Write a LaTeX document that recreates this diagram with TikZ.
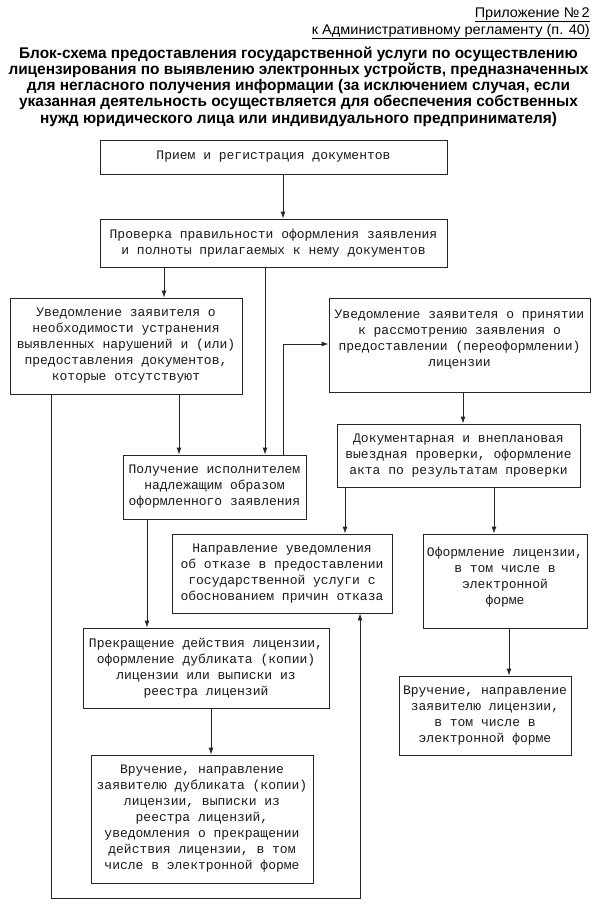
\documentclass[tikz,border=0pt]{standalone}
\usepackage{fontspec}
\usepackage{graphicx}
\setmainfont{Liberation Sans}
\newfontfamily\monof{Liberation Mono}
\usetikzlibrary{arrows.meta}
\newlength\tlen
\begin{document}
\settowidth\tlen{\bfseries\fontsize{15.5}{16}\selectfont лицензирования по выявлению электронных устройств, предназначенных}%
\pgfmathsetmacro\tsx{580/\the\tlen}%
\begin{tikzpicture}[x=1pt,y=-1pt,
  box/.style={draw=black!85, line width=0.9pt, inner sep=1pt, align=center,
    font=\monof\fontsize{13}{16}\selectfont, text=black!90},
  arr/.style={draw=black!85, line width=0.9pt, -{Latex[length=7pt,width=5pt]}},
  ttl/.style={anchor=base, inner sep=0pt, font=\bfseries\fontsize{15.5}{16}\selectfont},
  hdr/.style={anchor=base east, inner sep=0pt, font=\fontsize{14}{16}\selectfont}]
\fill[white] (0,0) rectangle (600,906);
\useasboundingbox (0,0) rectangle (600,906);

% header
\node[hdr] (h1) at (590,17)
  {\resizebox{115pt}{\height}{\underline{Приложение №\,2}}};
\node[hdr] (h2) at (590,34)
  {\resizebox{278pt}{\height}{\underline{к Административному регламенту (п. 40)}}};
% title
\node[ttl] (t1) at (298.5,58) {\scalebox{\tsx}[1]{Блок-схема предоставления государственной услуги по осуществлению}};
\node[ttl] (t2) at (298.5,74.25) {\scalebox{\tsx}[1]{лицензирования по выявлению электронных устройств, предназначенных}};
\node[ttl] (t3) at (298.5,90.5) {\scalebox{\tsx}[1]{для негласного получения информации (за исключением случая, если}};
\node[ttl] (t4) at (298.5,106.75) {\scalebox{\tsx}[1]{указанная деятельность осуществляется для обеспечения собственных}};
\node[ttl] (t5) at (298.5,123) {\scalebox{\tsx}[1]{нужд юридического лица или индивидуального предпринимателя)}};

% boxes
\node[box, minimum width=347pt, minimum height=34pt] (b1) at (273.5,157)
  {Прием и регистрация документов};
\node[box, minimum width=347pt, minimum height=48pt] (b2) at (273.5,243)
  {Проверка правильности оформления заявления\\и полноты прилагаемых к нему документов};
\node[box, minimum width=232pt, minimum height=96pt] (b3) at (126,346)
  {Уведомление заявителя о\\необходимости устранения\\выявленных нарушений и (или)\\предоставления документов,\\которые отсутствуют};
\node[box, minimum width=261pt, minimum height=94pt] (b4) at (459.5,345)
  {Уведомление заявителя о принятии\\к рассмотрению заявления о\\предоставлении (переоформлении)\\лицензии\\[-8pt]\strut};
\node[box, minimum width=183pt, minimum height=64pt] (b5) at (214.5,487)
  {Получение исполнителем\\надлежащим образом\\оформленного заявления};
\node[box, minimum width=243pt, minimum height=63pt] (b6) at (458.5,455.5)
  {Документарная и внеплановая\\выездная проверки, оформление\\акта по результатам проверки};
\node[box, minimum width=220pt, minimum height=79pt] (b7) at (282,573.5)
  {Направление уведомления\\об отказе в предоставлении\\государственной услуги с\\обоснованием причин отказа};
\node[box, minimum width=164pt, minimum height=94pt] (b8) at (505,581)
  {Оформление лицензии,\\в том числе в\\электронной\\форме\\[-10pt]\strut};
\node[box, minimum width=246pt, minimum height=80pt] (b9) at (206,668)
  {Прекращение действия лицензии,\\оформление дубликата (копии)\\лицензии или выписки из\\реестра лицензий};
\node[box, minimum width=172pt, minimum height=79pt] (b10) at (485,715.5)
  {Вручение, направление\\заявителю лицензии,\\в том числе в\\электронной форме};
\node[box, minimum width=222pt, minimum height=128pt] (b11) at (202,819)
  {Вручение, направление\\заявителю дубликата (копии)\\лицензии, выписки из\\реестра лицензий,\\уведомления о прекращении\\действия лицензии, в том\\числе в электронной форме};

% helper coordinates
\coordinate (X51) at (51,0);
\coordinate (X147) at (147,0);
\coordinate (X164) at (164,0);
\coordinate (X179) at (179,0);
\coordinate (X211) at (211,0);
\coordinate (X265) at (265,0);
\coordinate (X283) at (283,0);
\coordinate (X345) at (345,0);
\coordinate (X360) at (360,0);
\coordinate (X463) at (463,0);
\coordinate (X494) at (494,0);
\coordinate (X509) at (509,0);
\coordinate (Y344) at (0,344);
\coordinate (Ybot) at (0,898);

% connectors
\draw[arr] (b1.south -| X283) -- (b2.north -| X283);
\draw[arr] (b2.south -| X164) -- (b3.north -| X164);
\draw[arr] (b2.south -| X265) -- (b5.north -| X265);
\draw[arr] (b3.south -| X179) -- (b5.north -| X179);
\draw[arr] (b5.north -| X283) -- (X283 |- Y344) -- (b4.west |- Y344);
\draw[arr] (b4.south -| X463) -- (b6.north -| X463);
\draw[arr] (b6.south -| X345) -- (b7.north -| X345);
\draw[arr] (b6.south -| X494) -- (b8.north -| X494);
\draw[arr] (b5.south -| X147) -- (b9.north -| X147);
\draw[arr] (b9.south -| X211) -- (b11.north -| X211);
\draw[arr] (b8.south -| X509) -- (b10.north -| X509);
\draw[arr] (b3.south -| X51) -- (X51 |- Ybot) -- (X360 |- Ybot) -- (b7.south -| X360);
\end{tikzpicture}
\end{document}
